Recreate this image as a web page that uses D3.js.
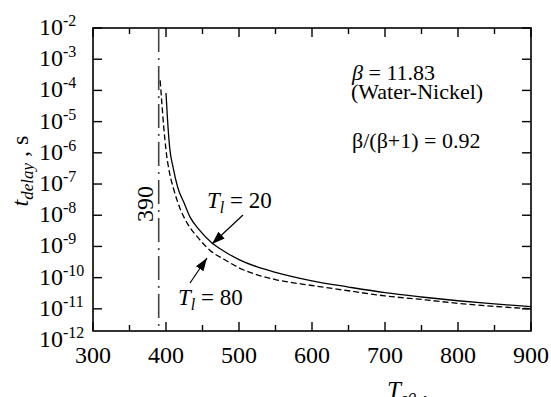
<!DOCTYPE html>
<html>
<head>
<meta charset="utf-8">
<script src="https://cdn.jsdelivr.net/npm/d3@7"></script>
<style>
  body { margin: 0; background: #fff; }
  text { font-family: "Liberation Serif", "Times New Roman", Times, "DejaVu Serif", serif; }
</style>
</head>
<body>
<svg id="chart" width="551" height="397"></svg>
<script>
// T_l = 20 (solid)
const tempSolid = [400, 402, 405, 410, 416, 425, 433, 445, 463, 480, 500, 525, 550, 600, 650, 700, 750, 800, 850, 900];
const delaySolid = [8.3e-5, 1.26e-5, 1.5e-6, 3.2e-7, 7.9e-8, 2.4e-8, 8.7e-9, 3.5e-9, 1.29e-9, 6.9e-10,
  3.8e-10, 2.2e-10, 1.48e-10, 7.9e-11, 5.0e-11, 3.3e-11, 2.4e-11, 1.82e-11, 1.45e-11, 1.17e-11];
// T_l = 80 (dashed)
const tempDashed = [392, 394, 397, 400, 405, 410, 420, 429, 445, 460, 480, 505, 525, 550, 600, 650, 700, 750, 800, 850, 900];
const delayDashed = [2.1e-4, 4.9e-5, 6.3e-6, 1.23e-6, 2.2e-7, 7.6e-8, 1.48e-8, 5.6e-9, 1.78e-9, 7.6e-10, 3.8e-10,
  1.82e-10, 1.23e-10, 8.7e-11, 5.6e-11, 3.8e-11, 2.6e-11, 2.0e-11, 1.5e-11, 1.2e-11, 1.0e-11];

const xMajor = [300, 400, 500, 600, 700, 800, 900];
const xMinor = [350, 450, 550, 650, 750, 850];
const yExps = [-2, -3, -4, -5, -6, -7, -8, -9, -10, -11, -12];
const limitTemp = 390;

const L = 93, R = 531, T = 28, B = 331;
const SERIF = "'Liberation Serif', 'Times New Roman', Times, 'DejaVu Serif', serif";

const svg = d3.select("#chart").attr("font-family", SERIF);

const x = d3.scaleLinear().domain([300, 900]).range([L, R]);
const y = d3.scaleLog().domain([Math.pow(10, -11.71), 1e-2]).range([B, T]);

// frame
svg.append("rect")
    .attr("x", L).attr("y", T)
    .attr("width", R - L).attr("height", B - T)
    .attr("fill", "none")
    .attr("stroke", "#000")
    .attr("stroke-width", 1.6)

// x ticks (inward, bottom + top)
const ticksG = svg.append("g").attr("stroke", "#000").attr("stroke-width", 1.4)
for (let v of xMajor) {
    ticksG.append("line").attr("x1", x(v)).attr("x2", x(v)).attr("y1", B).attr("y2", B - 9)
    ticksG.append("line").attr("x1", x(v)).attr("x2", x(v)).attr("y1", T).attr("y2", T + 9)
}
for (let v of xMinor) {
    ticksG.append("line").attr("x1", x(v)).attr("x2", x(v)).attr("y1", B).attr("y2", B - 6)
    ticksG.append("line").attr("x1", x(v)).attr("x2", x(v)).attr("y1", T).attr("y2", T + 6)
}
// y ticks (inward, left + right)
for (let e of yExps) {
    let v = Math.pow(10, e);
    if (y(v) < T - 0.5 || y(v) > B + 0.5) continue;
    ticksG.append("line").attr("x1", L).attr("x2", L + 9).attr("y1", y(v)).attr("y2", y(v))
    ticksG.append("line").attr("x1", R).attr("x2", R - 9).attr("y1", y(v)).attr("y2", y(v))
}

// x labels
svg.append("g").selectAll("text")
    .data(xMajor)
    .join("text")
    .attr("x", d => x(d))
    .attr("y", 363)
    .attr("text-anchor", "middle")
    .attr("font-size", 24)
    .text(d => d)

// y labels 10^e
const yl = svg.append("g").selectAll("text")
    .data(yExps)
    .join("text")
    .attr("x", 39)
    .attr("y", d => y(Math.pow(10, d)) + 7)
    .attr("font-size", 24)
yl.append("tspan").text("10")
yl.append("tspan").attr("dy", -9).attr("font-size", 16).text(d => d)

// 390 dash-dot line
svg.append("line")
    .attr("x1", x(limitTemp)).attr("x2", x(limitTemp))
    .attr("y1", T).attr("y2", B)
    .attr("stroke", "#444")
    .attr("stroke-width", 1.6)
    .attr("stroke-dasharray", "24,6,2,6")

svg.append("text")
    .attr("transform", "translate(153,204) rotate(-90)")
    .attr("text-anchor", "middle")
    .attr("font-size", 24)
    .text(limitTemp)

// curves
const line = d3.line()
    .x(d => x(d[0]))
    .y(d => y(d[1]))
    .curve(d3.curveMonotoneX)

svg.append("path")
    .datum(d3.zip(tempSolid, delaySolid))
    .attr("d", line)
    .attr("fill", "none")
    .attr("stroke", "#000")
    .attr("stroke-width", 1.3)

svg.append("path")
    .datum(d3.zip(tempDashed, delayDashed))
    .attr("d", line)
    .attr("fill", "none")
    .attr("stroke", "#000")
    .attr("stroke-width", 1.3)
    .attr("stroke-dasharray", "6,3")

// arrows
svg.append("defs").append("marker")
    .attr("id", "ah")
    .attr("viewBox", "0 0 10 10")
    .attr("refX", 10).attr("refY", 5)
    .attr("markerWidth", 13).attr("markerHeight", 13)
    .attr("markerUnits", "userSpaceOnUse")
    .attr("orient", "auto")
    .append("path")
    .attr("d", "M0,1.5 L10,5 L0,8.5 Z")
    .attr("fill", "#000")

svg.append("line")
    .attr("x1", 243).attr("y1", 215).attr("x2", 212).attr("y2", 244)
    .attr("stroke", "#000").attr("stroke-width", 1.2)
    .attr("marker-end", "url(#ah)")
svg.append("line")
    .attr("x1", 190).attr("y1", 283).attr("x2", 207).attr("y2", 258)
    .attr("stroke", "#000").attr("stroke-width", 1.2)
    .attr("marker-end", "url(#ah)")

function tlLabel(tx, ty, val) {
    let t = svg.append("text").attr("x", tx).attr("y", ty).attr("font-size", 23)
    t.append("tspan").attr("font-style", "italic").text("T")
    t.append("tspan").attr("font-style", "italic").attr("font-size", 16).attr("dy", 5).text("l")
    t.append("tspan").attr("dy", -5).text(" = " + val)
}
tlLabel(207, 208, 20)
tlLabel(178, 305, 80)

// annotations
let b1 = svg.append("text").attr("x", 352).attr("y", 80).attr("font-size", 22)
b1.append("tspan").attr("font-style", "italic").text("β")
b1.append("tspan").text(" = 11.83")
svg.append("text").attr("x", 351).attr("y", 99).attr("font-size", 22).text("(Water-Nickel)")
svg.append("text").attr("x", 352).attr("y", 148).attr("font-size", 22).text("β/(β+1) = 0.92")

// axis titles
let xt = svg.append("text").attr("x", 387).attr("y", 399).attr("font-size", 25)
xt.append("tspan").attr("font-style", "italic").text("T")
xt.append("tspan").attr("font-style", "italic").attr("font-size", 17).attr("dy", 5).text("s0")
xt.append("tspan").attr("dy", -5).text(" ,")

let yt = svg.append("text")
    .attr("transform", "translate(28,171) rotate(-90)")
    .attr("text-anchor", "middle")
    .attr("font-size", 24)
yt.append("tspan").attr("font-style", "italic").text("t")
yt.append("tspan").attr("font-style", "italic").attr("font-size", 17).attr("dy", 5).text("delay")
yt.append("tspan").attr("dy", -5).text(" , s")
</script>
</body>
</html>
